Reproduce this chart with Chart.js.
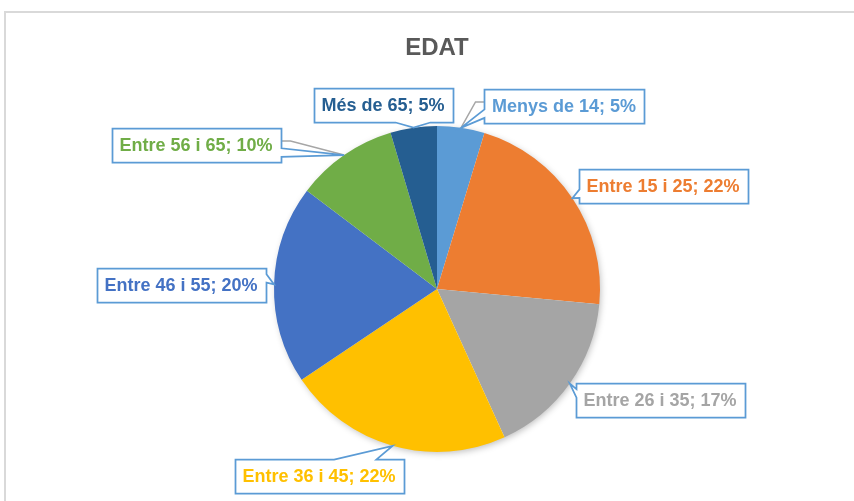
<!DOCTYPE html>
<html>
<head>
<meta charset="utf-8">
<script src="https://cdn.jsdelivr.net/npm/chart.js@4"></script>
<style>
  body { margin: 0; background: #fff; }
  #wrap { position: relative; width: 854px; height: 501px; overflow: hidden; }
  #frame { position: absolute; left: 4px; top: 11px; width: 900px; height: 560px; border: 2px solid #d9d9d9; box-sizing: border-box; }
  #chart { position: absolute; left: 0; top: 0; }
</style>
</head>
<body>
<div id="wrap">
  <div id="frame"></div>
  <canvas id="chart" width="854" height="501"></canvas>
</div>
<script>
/* ── data ── */
const categories = ['Menys de 14', 'Entre 15 i 25', 'Entre 26 i 35', 'Entre 36 i 45', 'Entre 46 i 55', 'Entre 56 i 65', 'Més de 65'];
const shares = [4.7, 21.8, 16.7, 22.4, 19.7, 10.1, 4.6];
const sliceColors = ['#5B9BD5', '#ED7D31', '#A5A5A5', '#FFC000', '#4472C4', '#70AD47', '#255E91'];

/* ── label placement (layout only) ── */
const labelPos = [
  { x: 564, y: 106, leader: true },
  { x: 663, y: 186 },
  { x: 660, y: 400 },
  { x: 319, y: 476 },
  { x: 181, y: 285 },
  { x: 196, y: 145, leader: true },
  { x: 383, y: 105 },
];

const FONT = '"Liberation Sans", Arial, sans-serif';

// Excel-style wedge callout outline
function calloutPath(ctx, x, y, w, h, tx, ty) {
  const hc = x + w / 2, vc = y + h / 2;
  const dx = tx - hc, dy = ty - vc;
  const dq = dx * h / w;
  const x1 = x + w * (dx > 0 ? 7 : 2) / 12, x2 = x + w * (dx > 0 ? 10 : 5) / 12;
  const y1 = y + h * (dy > 0 ? 7 : 2) / 12, y2 = y + h * (dy > 0 ? 10 : 5) / 12;
  const vertical = Math.abs(dy) > Math.abs(dq);

  ctx.beginPath();
  ctx.moveTo(x, y);
  if (vertical && dy < 0) { ctx.lineTo(x1, y); ctx.lineTo(tx, ty); ctx.lineTo(x2, y); }
  ctx.lineTo(x + w, y);
  if (!vertical && dx > 0) { ctx.lineTo(x + w, y1); ctx.lineTo(tx, ty); ctx.lineTo(x + w, y2); }
  ctx.lineTo(x + w, y + h);
  if (vertical && dy > 0) { ctx.lineTo(x2, y + h); ctx.lineTo(tx, ty); ctx.lineTo(x1, y + h); }
  ctx.lineTo(x, y + h);
  if (!vertical && dx < 0) { ctx.lineTo(x, y2); ctx.lineTo(tx, ty); ctx.lineTo(x, y1); }
  ctx.closePath();
}

const calloutPlugin = {
  id: 'callouts',
  beforeDatasetsDraw(chart) {
    const arc = chart.getDatasetMeta(0).data[0];
    if (!arc) return;
    const ctx = chart.ctx;
    ctx.save();
    ctx.shadowColor = 'rgba(0,0,0,0.28)';
    ctx.shadowBlur = 7;
    ctx.shadowOffsetX = 1.5;
    ctx.shadowOffsetY = 2;
    ctx.fillStyle = '#fff';
    ctx.beginPath();
    ctx.arc(arc.x, arc.y, arc.outerRadius - 1, 0, Math.PI * 2);
    ctx.fill();
    ctx.restore();
  },
  afterDatasetsDraw(chart) {
    const ctx = chart.ctx;
    const meta = chart.getDatasetMeta(0);
    const data = chart.data.datasets[0].data;
    const total = data.reduce((a, b) => a + b, 0);

    ctx.save();
    ctx.font = `bold 18px ${FONT}`;
    ctx.textAlign = 'center';
    ctx.textBaseline = 'middle';

    meta.data.forEach((el, i) => {
      const p = el.getProps(['x', 'y', 'startAngle', 'endAngle', 'outerRadius'], true);
      const mid = (p.startAngle + p.endAngle) / 2;
      const tx = p.x + Math.cos(mid) * p.outerRadius;
      const ty = p.y + Math.sin(mid) * p.outerRadius;

      const text = `${chart.data.labels[i]}; ${Math.round(data[i] / total * 100)}%`;
      const pos = labelPos[i];
      const w = Math.round(ctx.measureText(text).width + 16);
      const h = 34;
      const x0 = Math.round(pos.x - w / 2) + 0.5;
      const y0 = Math.round(pos.y - h / 2) + 0.5;

      if (pos.leader) {
        const sx = tx < pos.x ? x0 : x0 + w;
        const stub = tx < pos.x ? sx - 9 : sx + 9;
        const sy = pos.y - 4;
        ctx.strokeStyle = '#A6A6A6';
        ctx.lineWidth = 1.5;
        ctx.beginPath();
        ctx.moveTo(sx, sy);
        ctx.lineTo(stub, sy);
        ctx.lineTo(tx, ty);
        ctx.stroke();
      }

      calloutPath(ctx, x0, y0, w, h, tx, ty);
      ctx.fillStyle = '#fff';
      ctx.fill();
      ctx.strokeStyle = '#5B9BD5';
      ctx.lineWidth = 1.75;
      ctx.lineJoin = 'miter';
      ctx.stroke();

      ctx.fillStyle = sliceColors[i];
      ctx.fillText(text, pos.x, pos.y + 1);
    });
    ctx.restore();
  },
};

new Chart(document.getElementById('chart'), {
  type: 'pie',
  data: {
    labels: categories,
    datasets: [
      {
        data: shares,
        backgroundColor: sliceColors,
        borderWidth: 0,
        hoverOffset: 0,
      },
    ],
  },
  options: {
    responsive: false,
    animation: false,
    devicePixelRatio: 1,
    layout: { padding: { left: 200, right: 180, top: 20, bottom: 49 } },
    plugins: {
      legend: { display: false },
      tooltip: { enabled: false },
      title: {
        display: true,
        text: 'EDAT',
        color: '#595959',
        font: { family: FONT, size: 24, weight: 'bold' },
        padding: { top: 14, bottom: 63.2 },
      },
    },
  },
  plugins: [calloutPlugin],
});
</script>
</body>
</html>
